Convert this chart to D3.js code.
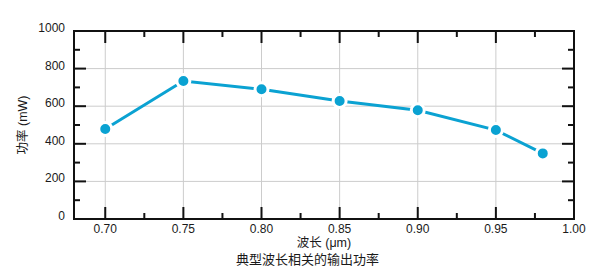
<!DOCTYPE html>
<html>
<head>
<meta charset="utf-8">
<script src="https://cdn.jsdelivr.net/npm/d3@7"></script>
<style>
  body { margin: 0; background: #fff; }
  svg text { font-family: "Liberation Sans", Arial, "Noto Sans CJK SC", sans-serif; fill: #1a1a1a; }
</style>
</head>
<body>
<svg id="chart" width="615" height="272"></svg>
<script>
// wavelength (um) vs output power (mW)
const wavelengths = [0.70, 0.75, 0.80, 0.85, 0.90, 0.95, 0.98];
const powers = [479, 734, 690, 628, 578, 473, 349];
const xTicks = [0.70, 0.75, 0.80, 0.85, 0.90, 0.95, 1.00];
const yTicks = [0, 200, 400, 600, 800, 1000];

const svg = d3.select('#chart');
const margin = { top: 31, right: 41, bottom: 53, left: 74 };
const width = 615 - margin.left - margin.right;
const height = 272 - margin.top - margin.bottom;

const x = d3.scaleLinear().domain([0.68, 1.00]).range([0, width]);
const y = d3.scaleLinear().domain([0, 1000]).range([height, 0]);

const g = svg.append('g').attr('transform', `translate(${margin.left},${margin.top})`);

// gridlines
g.append('g').selectAll('line').data(xTicks.filter(d => d < 1)).join('line')
  .attr('x1', d => x(d)).attr('x2', d => x(d)).attr('y1', 0).attr('y2', height)
  .attr('stroke', '#cccccc').attr('stroke-width', 1);
g.append('g').selectAll('line').data(yTicks.filter(d => d > 0 && d < 1000)).join('line')
  .attr('x1', 0).attr('x2', width).attr('y1', d => y(d)).attr('y2', d => y(d))
  .attr('stroke', '#cccccc').attr('stroke-width', 1);

// inward ticks on all sides
const xMinor = d3.range(0.725, 1.0, 0.05);
const yMinor = d3.range(100, 1000, 200);
function ticks(sel, data, len, horiz, pos) {
  sel.selectAll(null).data(data).join('line')
    .attr('x1', d => horiz ? x(d) : pos)
    .attr('x2', d => horiz ? x(d) : pos + len)
    .attr('y1', d => horiz ? pos : y(d))
    .attr('y2', d => horiz ? pos + len : y(d))
    .attr('stroke', '#111').attr('stroke-width', 2);
}
const tk = g.append('g');
ticks(tk, xTicks.filter(d => d < 1), -12, true, height);
ticks(tk, xMinor, -6, true, height);
ticks(tk, xTicks.filter(d => d < 1), 12, true, 0);
ticks(tk, xMinor, 6, true, 0);
ticks(tk, yTicks.filter(d => d > 0 && d < 1000), 12, false, 0);
ticks(tk, yMinor, 6, false, 0);
ticks(tk, yTicks.filter(d => d > 0 && d < 1000), -12, false, width);
ticks(tk, yMinor, -6, false, width);

// frame
g.append('rect').attr('width', width).attr('height', height)
  .attr('fill', 'none').attr('stroke', '#111').attr('stroke-width', 2);

// tick labels
g.append('g').selectAll('text').data(xTicks).join('text')
  .attr('x', d => x(d)).attr('y', height + 14)
  .attr('text-anchor', 'middle').attr('font-size', 12)
  .text(d3.format('.2f'));
g.append('g').selectAll('text').data(yTicks).join('text')
  .attr('x', -9).attr('y', d => y(d) + 1)
  .attr('text-anchor', 'end').attr('font-size', 12)
  .text(d => d);

// series
const line = d3.line().x((d, i) => x(wavelengths[i])).y(d => y(d));
g.append('path').datum(powers).attr('d', line)
  .attr('fill', 'none').attr('stroke', '#0ba2d2').attr('stroke-width', 3);
g.append('g').selectAll('circle').data(powers).join('circle')
  .attr('cx', (d, i) => x(wavelengths[i])).attr('cy', d => y(d)).attr('r', 6.5)
  .attr('fill', '#0aa2d2').attr('stroke', '#fff').attr('stroke-width', 3);

// axis labels
svg.append('text').attr('x', margin.left + width / 2).attr('y', 247)
  .attr('text-anchor', 'middle').attr('font-size', 12.5).text('波长 (μm)');
svg.append('text').attr('x', 307.5).attr('y', 264)
  .attr('text-anchor', 'middle').attr('font-size', 13).text('典型波长相关的输出功率');
svg.append('text')
  .attr('transform', `translate(27,${margin.top + height / 2}) rotate(-90)`)
  .attr('text-anchor', 'middle').attr('font-size', 12.5).text('功率 (mW)');
</script>
</body>
</html>
